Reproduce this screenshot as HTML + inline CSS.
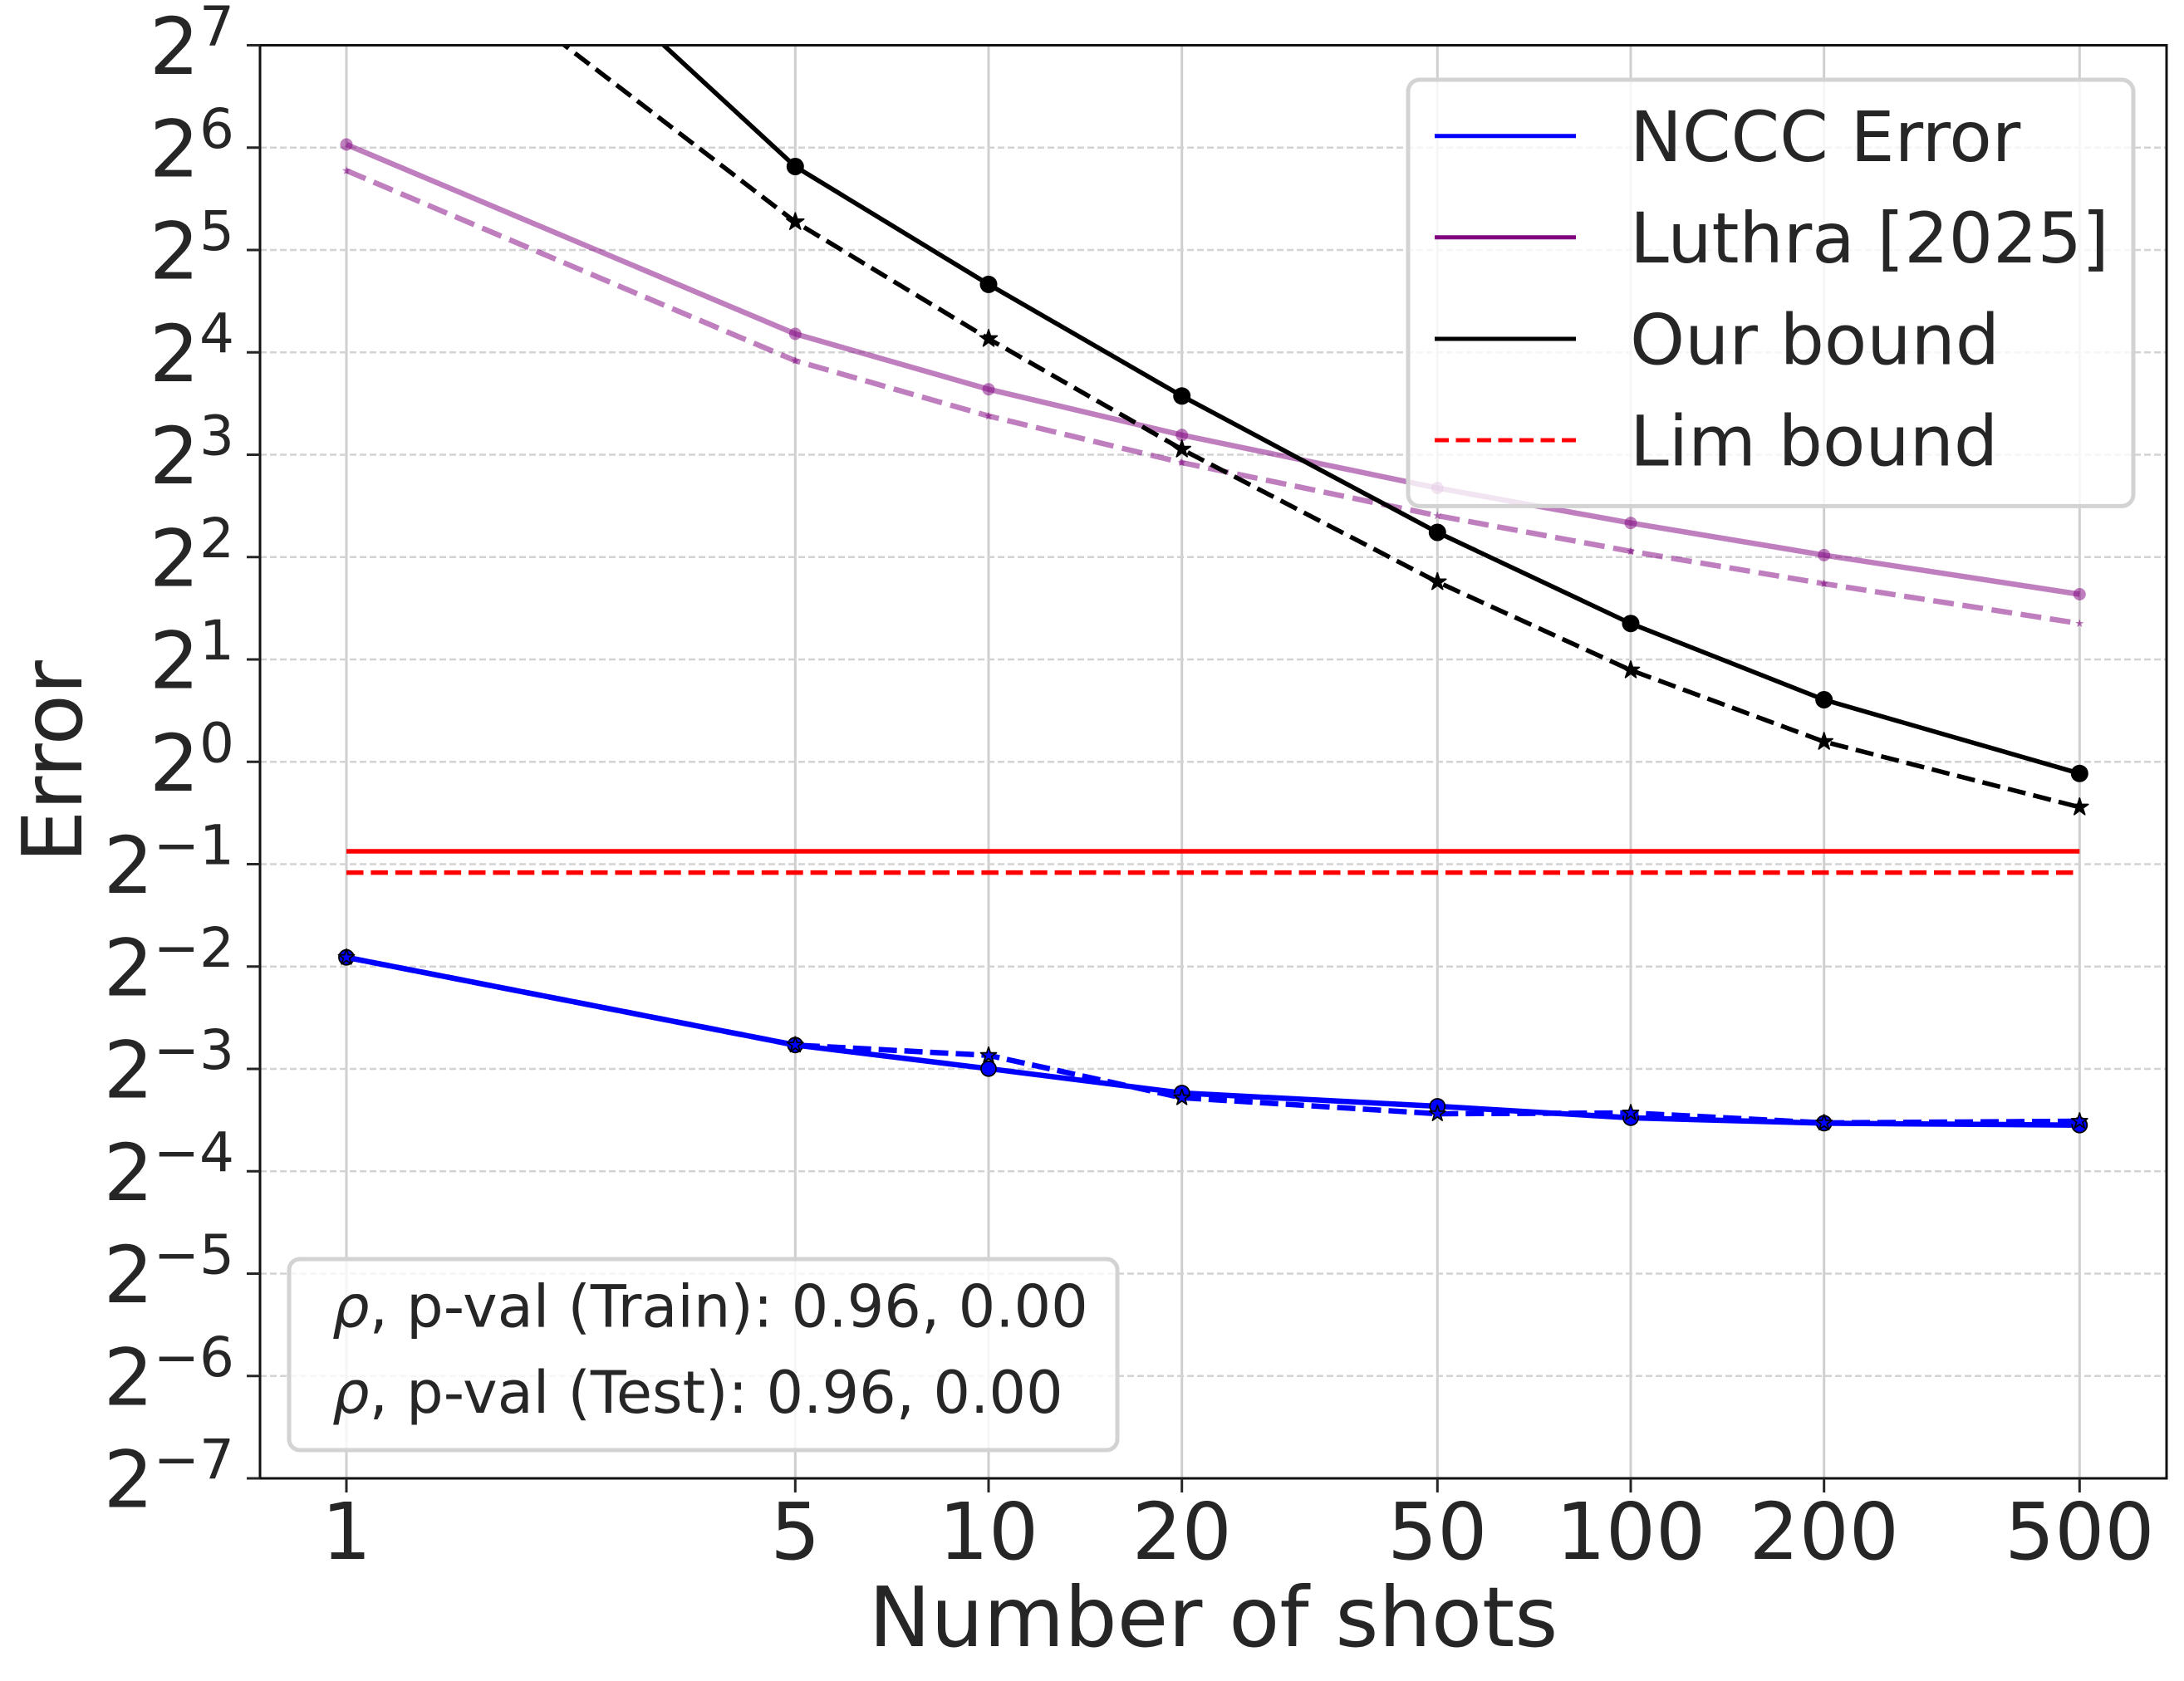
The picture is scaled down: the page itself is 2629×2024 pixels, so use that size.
<!DOCTYPE html>
<html><head><meta charset="utf-8"><style>
html,body{margin:0;padding:0;background:#fff;}
svg{display:block;}
text{font-family:"DejaVu Sans","Liberation Sans",sans-serif;fill:#262626;}
</style></head><body>
<svg width="2629" height="2024" viewBox="0 0 2629 2024" xmlns="http://www.w3.org/2000/svg">
<defs><clipPath id="ax"><rect x="313" y="54.5" width="2295" height="1725.5"/></clipPath></defs>
<rect width="2629" height="2024" fill="#fff"/>
<!-- grid -->
<g stroke="#cfcfcf" stroke-width="3">
<line x1="417" y1="54.5" x2="417" y2="1780"/><line x1="957.3" y1="54.5" x2="957.3" y2="1780"/><line x1="1190" y1="54.5" x2="1190" y2="1780"/><line x1="1422.7" y1="54.5" x2="1422.7" y2="1780"/><line x1="1730.3" y1="54.5" x2="1730.3" y2="1780"/><line x1="1963" y1="54.5" x2="1963" y2="1780"/><line x1="2195.7" y1="54.5" x2="2195.7" y2="1780"/><line x1="2503.3" y1="54.5" x2="2503.3" y2="1780"/>
</g>
<g stroke="#d3d3d3" stroke-width="2.5" stroke-dasharray="8 4">
<line x1="313" y1="177.75" x2="2608" y2="177.75"/><line x1="313" y1="301" x2="2608" y2="301"/><line x1="313" y1="424.25" x2="2608" y2="424.25"/><line x1="313" y1="547.5" x2="2608" y2="547.5"/><line x1="313" y1="670.75" x2="2608" y2="670.75"/><line x1="313" y1="794" x2="2608" y2="794"/><line x1="313" y1="917.25" x2="2608" y2="917.25"/><line x1="313" y1="1040.5" x2="2608" y2="1040.5"/><line x1="313" y1="1163.75" x2="2608" y2="1163.75"/><line x1="313" y1="1287" x2="2608" y2="1287"/><line x1="313" y1="1410.25" x2="2608" y2="1410.25"/><line x1="313" y1="1533.5" x2="2608" y2="1533.5"/><line x1="313" y1="1656.75" x2="2608" y2="1656.75"/>
</g>
<g clip-path="url(#ax)" fill="none" stroke-linejoin="round">
<!-- NCCC -->
<polyline stroke="#0000ff" stroke-width="6.5" points="417,1152.7 957.3,1258.3 1190,1286.7 1422.7,1316 1730.3,1332 1963,1345.9 2195.7,1352.4 2503.3,1354.7"/>
<g fill="#0000ff" stroke="#000" stroke-width="1.8">
<circle cx="417" cy="1152.7" r="9"/><circle cx="957.3" cy="1258.3" r="9"/><circle cx="1190" cy="1286.7" r="9"/><circle cx="1422.7" cy="1316" r="9"/><circle cx="1730.3" cy="1332" r="9"/><circle cx="1963" cy="1345.9" r="9"/><circle cx="2195.7" cy="1352.4" r="9"/><circle cx="2503.3" cy="1354.7" r="9"/>
</g>
<polyline stroke="#0000ff" stroke-width="6.5" stroke-dasharray="22 9" points="417,1152.7 957.3,1258.3 1190,1270.7 1422.7,1321.7 1730.3,1341 1963,1340 2195.7,1352 2503.3,1350"/>
<g fill="#0000ff" stroke="#000" stroke-width="0.17">
<polygon transform="translate(417,1152.7) scale(10)" points="0,-1 0.2245,-0.309 0.9511,-0.309 0.3633,0.118 0.5878,0.809 0,0.382 -0.5878,0.809 -0.3633,0.118 -0.9511,-0.309 -0.2245,-0.309"/>
<polygon transform="translate(957.3,1258.3) scale(10)" points="0,-1 0.2245,-0.309 0.9511,-0.309 0.3633,0.118 0.5878,0.809 0,0.382 -0.5878,0.809 -0.3633,0.118 -0.9511,-0.309 -0.2245,-0.309"/>
<polygon transform="translate(1190,1270.7) scale(10)" points="0,-1 0.2245,-0.309 0.9511,-0.309 0.3633,0.118 0.5878,0.809 0,0.382 -0.5878,0.809 -0.3633,0.118 -0.9511,-0.309 -0.2245,-0.309"/>
<polygon transform="translate(1422.7,1321.7) scale(10)" points="0,-1 0.2245,-0.309 0.9511,-0.309 0.3633,0.118 0.5878,0.809 0,0.382 -0.5878,0.809 -0.3633,0.118 -0.9511,-0.309 -0.2245,-0.309"/>
<polygon transform="translate(1730.3,1341) scale(10)" points="0,-1 0.2245,-0.309 0.9511,-0.309 0.3633,0.118 0.5878,0.809 0,0.382 -0.5878,0.809 -0.3633,0.118 -0.9511,-0.309 -0.2245,-0.309"/>
<polygon transform="translate(1963,1340) scale(10)" points="0,-1 0.2245,-0.309 0.9511,-0.309 0.3633,0.118 0.5878,0.809 0,0.382 -0.5878,0.809 -0.3633,0.118 -0.9511,-0.309 -0.2245,-0.309"/>
<polygon transform="translate(2195.7,1352) scale(10)" points="0,-1 0.2245,-0.309 0.9511,-0.309 0.3633,0.118 0.5878,0.809 0,0.382 -0.5878,0.809 -0.3633,0.118 -0.9511,-0.309 -0.2245,-0.309"/>
<polygon transform="translate(2503.3,1350) scale(10)" points="0,-1 0.2245,-0.309 0.9511,-0.309 0.3633,0.118 0.5878,0.809 0,0.382 -0.5878,0.809 -0.3633,0.118 -0.9511,-0.309 -0.2245,-0.309"/>
</g>
<!-- Luthra -->
<polyline stroke="#800080" stroke-opacity="0.5" stroke-width="6.5" points="417,174 957.3,402 1190,468.7 1422.7,523.8 1730.3,587.6 1963,629.7 2195.7,668.4 2503.3,715.5"/>
<g fill="#800080" fill-opacity="0.5" stroke="none">
<circle cx="417" cy="174" r="7.5"/><circle cx="957.3" cy="402" r="7.5"/><circle cx="1190" cy="468.7" r="7.5"/><circle cx="1422.7" cy="523.8" r="7.5"/><circle cx="1730.3" cy="587.6" r="7.5"/><circle cx="1963" cy="629.7" r="7.5"/><circle cx="2195.7" cy="668.4" r="7.5"/><circle cx="2503.3" cy="715.5" r="7.5"/>
</g>
<polyline stroke="#800080" stroke-opacity="0.5" stroke-width="6.5" stroke-dasharray="25 10.5" points="417,205.4 957.3,434.3 1190,500.9 1422.7,557 1730.3,620.9 1963,663.8 2195.7,702.8 2503.3,750.7"/>
<g fill="#800080" fill-opacity="0.5" stroke="none">
<polygon transform="translate(417,205.4) scale(5.5)" points="0,-1 0.2245,-0.309 0.9511,-0.309 0.3633,0.118 0.5878,0.809 0,0.382 -0.5878,0.809 -0.3633,0.118 -0.9511,-0.309 -0.2245,-0.309"/>
<polygon transform="translate(957.3,434.3) scale(5.5)" points="0,-1 0.2245,-0.309 0.9511,-0.309 0.3633,0.118 0.5878,0.809 0,0.382 -0.5878,0.809 -0.3633,0.118 -0.9511,-0.309 -0.2245,-0.309"/>
<polygon transform="translate(1190,500.9) scale(5.5)" points="0,-1 0.2245,-0.309 0.9511,-0.309 0.3633,0.118 0.5878,0.809 0,0.382 -0.5878,0.809 -0.3633,0.118 -0.9511,-0.309 -0.2245,-0.309"/>
<polygon transform="translate(1422.7,557) scale(5.5)" points="0,-1 0.2245,-0.309 0.9511,-0.309 0.3633,0.118 0.5878,0.809 0,0.382 -0.5878,0.809 -0.3633,0.118 -0.9511,-0.309 -0.2245,-0.309"/>
<polygon transform="translate(1730.3,620.9) scale(5.5)" points="0,-1 0.2245,-0.309 0.9511,-0.309 0.3633,0.118 0.5878,0.809 0,0.382 -0.5878,0.809 -0.3633,0.118 -0.9511,-0.309 -0.2245,-0.309"/>
<polygon transform="translate(1963,663.8) scale(5.5)" points="0,-1 0.2245,-0.309 0.9511,-0.309 0.3633,0.118 0.5878,0.809 0,0.382 -0.5878,0.809 -0.3633,0.118 -0.9511,-0.309 -0.2245,-0.309"/>
<polygon transform="translate(2195.7,702.8) scale(5.5)" points="0,-1 0.2245,-0.309 0.9511,-0.309 0.3633,0.118 0.5878,0.809 0,0.382 -0.5878,0.809 -0.3633,0.118 -0.9511,-0.309 -0.2245,-0.309"/>
<polygon transform="translate(2503.3,750.7) scale(5.5)" points="0,-1 0.2245,-0.309 0.9511,-0.309 0.3633,0.118 0.5878,0.809 0,0.382 -0.5878,0.809 -0.3633,0.118 -0.9511,-0.309 -0.2245,-0.309"/>
</g>
<!-- Our bound -->
<polyline stroke="#000" stroke-width="5.5" points="417,-298 957.3,200.5 1190,342.4 1422.7,476.8 1730.3,641 1963,750.7 2195.7,842.5 2503.3,931.3"/>
<g fill="#000">
<circle cx="957.3" cy="200.5" r="10.5"/><circle cx="1190" cy="342.4" r="10.5"/><circle cx="1422.7" cy="476.8" r="10.5"/><circle cx="1730.3" cy="641" r="10.5"/><circle cx="1963" cy="750.7" r="10.5"/><circle cx="2195.7" cy="842.5" r="10.5"/><circle cx="2503.3" cy="931.3" r="10.5"/>
</g>
<polyline stroke="#000" stroke-width="5.5" stroke-dasharray="22 9.5" points="417,-146.7 957.3,267.2 1190,407.9 1422.7,541 1730.3,700.7 1963,806.9 2195.7,893 2503.3,971.9"/>
<g fill="#000" stroke="#000" stroke-width="0.15">
<polygon transform="translate(957.3,267.2) scale(11)" points="0,-1 0.2245,-0.309 0.9511,-0.309 0.3633,0.118 0.5878,0.809 0,0.382 -0.5878,0.809 -0.3633,0.118 -0.9511,-0.309 -0.2245,-0.309"/>
<polygon transform="translate(1190,407.9) scale(11)" points="0,-1 0.2245,-0.309 0.9511,-0.309 0.3633,0.118 0.5878,0.809 0,0.382 -0.5878,0.809 -0.3633,0.118 -0.9511,-0.309 -0.2245,-0.309"/>
<polygon transform="translate(1422.7,541) scale(11)" points="0,-1 0.2245,-0.309 0.9511,-0.309 0.3633,0.118 0.5878,0.809 0,0.382 -0.5878,0.809 -0.3633,0.118 -0.9511,-0.309 -0.2245,-0.309"/>
<polygon transform="translate(1730.3,700.7) scale(11)" points="0,-1 0.2245,-0.309 0.9511,-0.309 0.3633,0.118 0.5878,0.809 0,0.382 -0.5878,0.809 -0.3633,0.118 -0.9511,-0.309 -0.2245,-0.309"/>
<polygon transform="translate(1963,806.9) scale(11)" points="0,-1 0.2245,-0.309 0.9511,-0.309 0.3633,0.118 0.5878,0.809 0,0.382 -0.5878,0.809 -0.3633,0.118 -0.9511,-0.309 -0.2245,-0.309"/>
<polygon transform="translate(2195.7,893) scale(11)" points="0,-1 0.2245,-0.309 0.9511,-0.309 0.3633,0.118 0.5878,0.809 0,0.382 -0.5878,0.809 -0.3633,0.118 -0.9511,-0.309 -0.2245,-0.309"/>
<polygon transform="translate(2503.3,971.9) scale(11)" points="0,-1 0.2245,-0.309 0.9511,-0.309 0.3633,0.118 0.5878,0.809 0,0.382 -0.5878,0.809 -0.3633,0.118 -0.9511,-0.309 -0.2245,-0.309"/>
</g>
<!-- Lim -->
<line x1="417" y1="1025" x2="2503.3" y2="1025" stroke="#ff0000" stroke-width="5.5"/>
<line x1="417" y1="1050.6" x2="2503.3" y2="1050.6" stroke="#ff0000" stroke-width="5.5" stroke-dasharray="20.5 8.9"/>
</g>
<!-- spines -->
<rect x="313" y="54.5" width="2295" height="1725.5" fill="none" stroke="#111" stroke-width="3"/>
<!-- ticks -->
<g stroke="#262626" stroke-width="3">
<line x1="297" y1="54.5" x2="313" y2="54.5"/><line x1="297" y1="177.75" x2="313" y2="177.75"/><line x1="297" y1="301" x2="313" y2="301"/><line x1="297" y1="424.25" x2="313" y2="424.25"/><line x1="297" y1="547.5" x2="313" y2="547.5"/><line x1="297" y1="670.75" x2="313" y2="670.75"/><line x1="297" y1="794" x2="313" y2="794"/><line x1="297" y1="917.25" x2="313" y2="917.25"/><line x1="297" y1="1040.5" x2="313" y2="1040.5"/><line x1="297" y1="1163.75" x2="313" y2="1163.75"/><line x1="297" y1="1287" x2="313" y2="1287"/><line x1="297" y1="1410.25" x2="313" y2="1410.25"/><line x1="297" y1="1533.5" x2="313" y2="1533.5"/><line x1="297" y1="1656.75" x2="313" y2="1656.75"/><line x1="297" y1="1780" x2="313" y2="1780"/>
<line x1="417" y1="1780" x2="417" y2="1797"/><line x1="957.3" y1="1780" x2="957.3" y2="1797"/><line x1="1190" y1="1780" x2="1190" y2="1797"/><line x1="1422.7" y1="1780" x2="1422.7" y2="1797"/><line x1="1730.3" y1="1780" x2="1730.3" y2="1797"/><line x1="1963" y1="1780" x2="1963" y2="1797"/><line x1="2195.7" y1="1780" x2="2195.7" y2="1797"/><line x1="2503.3" y1="1780" x2="2503.3" y2="1797"/>
</g>
<!-- y tick labels -->
<g font-size="94.5" text-anchor="end">
<text x="282" y="89">2<tspan dy="-34.5" font-size="66">7</tspan></text>
<text x="282" y="212.25">2<tspan dy="-34.5" font-size="66">6</tspan></text>
<text x="282" y="335.5">2<tspan dy="-34.5" font-size="66">5</tspan></text>
<text x="282" y="458.75">2<tspan dy="-34.5" font-size="66">4</tspan></text>
<text x="282" y="582">2<tspan dy="-34.5" font-size="66">3</tspan></text>
<text x="282" y="705.25">2<tspan dy="-34.5" font-size="66">2</tspan></text>
<text x="282" y="828.5">2<tspan dy="-34.5" font-size="66">1</tspan></text>
<text x="282" y="951.75">2<tspan dy="-34.5" font-size="66">0</tspan></text>
<text x="282" y="1075">2<tspan dy="-34.5" font-size="66">−1</tspan></text>
<text x="282" y="1198.25">2<tspan dy="-34.5" font-size="66">−2</tspan></text>
<text x="282" y="1321.5">2<tspan dy="-34.5" font-size="66">−3</tspan></text>
<text x="282" y="1444.75">2<tspan dy="-34.5" font-size="66">−4</tspan></text>
<text x="282" y="1568">2<tspan dy="-34.5" font-size="66">−5</tspan></text>
<text x="282" y="1691.25">2<tspan dy="-34.5" font-size="66">−6</tspan></text>
<text x="282" y="1814.5">2<tspan dy="-34.5" font-size="66">−7</tspan></text>
</g>
<!-- x tick labels -->
<g font-size="94.5" text-anchor="middle">
<text x="417" y="1877">1</text><text x="957.3" y="1877">5</text><text x="1190" y="1877">10</text><text x="1422.7" y="1877">20</text><text x="1730.3" y="1877">50</text><text x="1963" y="1877">100</text><text x="2195.7" y="1877">200</text><text x="2503.3" y="1877">500</text>
</g>
<text x="1460.5" y="1982" font-size="100" text-anchor="middle">Number of shots</text>
<text transform="translate(98,917) rotate(-90)" font-size="100" text-anchor="middle">Error</text>
<!-- legend -->
<rect x="1695" y="96" width="873" height="513.4" rx="14" ry="14" fill="#fff" fill-opacity="0.8" stroke="#d3d3d3" stroke-width="5"/>
<line x1="1727" y1="163.8" x2="1897" y2="163.8" stroke="#0000ff" stroke-width="5"/>
<line x1="1727" y1="285.7" x2="1897" y2="285.7" stroke="#800080" stroke-width="5"/>
<line x1="1727" y1="408" x2="1897" y2="408" stroke="#000" stroke-width="5"/>
<line x1="1727" y1="530" x2="1897" y2="530" stroke="#ff0000" stroke-width="5" stroke-dasharray="17 8.5"/>
<g font-size="84">
<text x="1962" y="194.2">NCCC Error</text>
<text x="1962" y="316.1">Luthra [2025]</text>
<text x="1962" y="438.4">Our bound</text>
<text x="1962" y="560.4">Lim bound</text>
</g>
<!-- stats box -->
<rect x="348" y="1516" width="997" height="230" rx="13" ry="13" fill="#fff" fill-opacity="0.8" stroke="#d3d3d3" stroke-width="5"/>
<g font-size="70.2">
<text x="400" y="1597.3"><tspan font-style="italic">ρ</tspan>, p-val (Train): 0.96, 0.00</text>
<text x="400" y="1701"><tspan font-style="italic">ρ</tspan>, p-val (Test): 0.96, 0.00</text>
</g>
</svg>
</body></html>
